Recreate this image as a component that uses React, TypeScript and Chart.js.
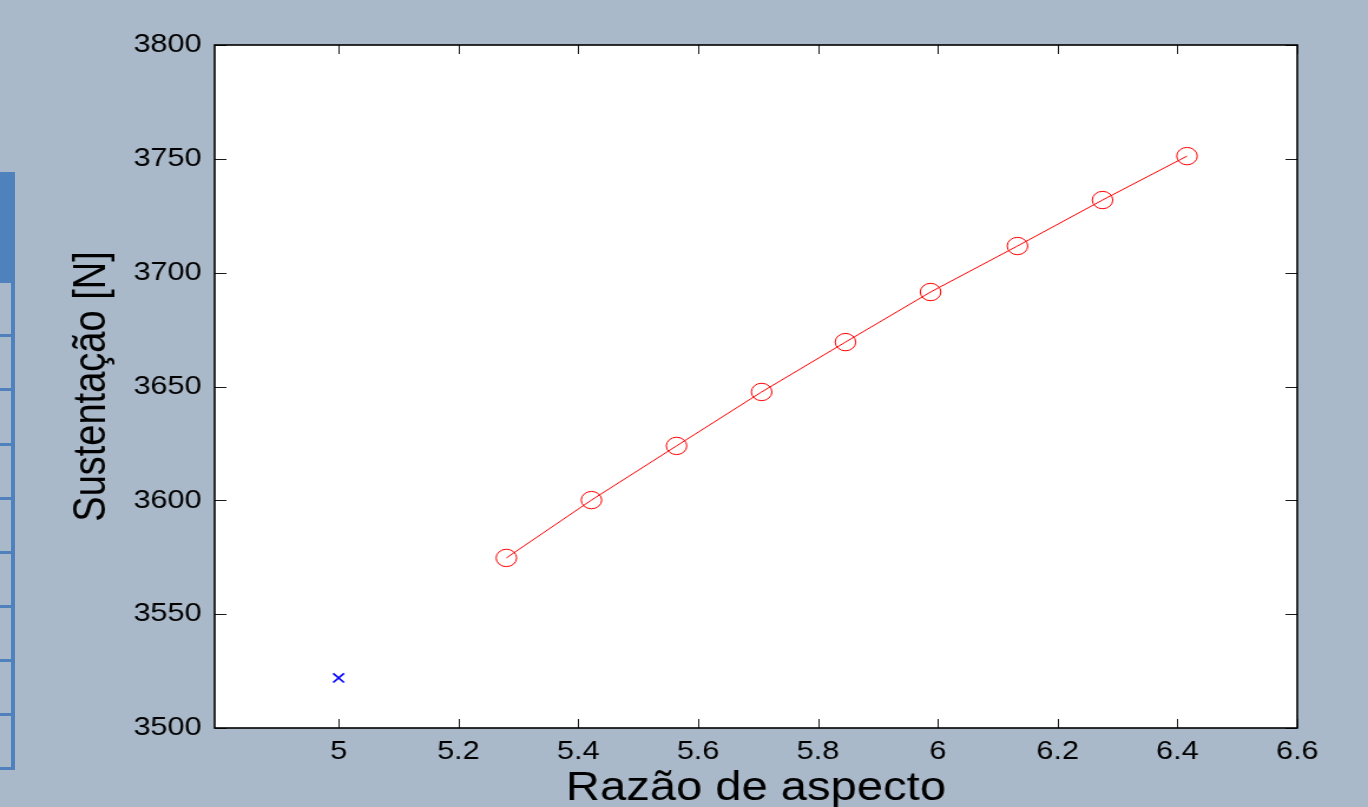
import React, { useEffect, useRef } from "react";
import { Chart, registerables } from "chart.js";

Chart.register(...registerables);

// ---- data ----
const aspectRatios = [5.28, 5.422, 5.564, 5.706, 5.846, 5.988, 6.133, 6.275, 6.416];
const liftValues = [3574.7, 3600.1, 3623.9, 3647.6, 3669.5, 3691.5, 3711.7, 3731.9, 3751.2];
const baselineX = [5.0];
const baselineY = [3522.0];
const xTickValues = [5, 5.2, 5.4, 5.6, 5.8, 6, 6.2, 6.4, 6.6];
const xTickLabels = ["5", "5.2", "5.4", "5.6", "5.8", "6", "6.2", "6.4", "6.6"];
const yTickValues = [3500, 3550, 3600, 3650, 3700, 3750, 3800];
const yTickLabels = ["3500", "3550", "3600", "3650", "3700", "3750", "3800"];
const xTitle = "Razão de aspecto";
const yTitle = "Sustentação [N]";

const STRETCH = 1368 / 1160;
const FONT = "'Liberation Sans', Arial, sans-serif";

const boxPlugin = {
  id: "boxPlugin",
  beforeDraw(chart: any) {
    const { ctx, chartArea } = chart;
    ctx.save();
    ctx.fillStyle = "#ffffff";
    ctx.fillRect(chartArea.left, chartArea.top, chartArea.right - chartArea.left, chartArea.bottom - chartArea.top);
    ctx.restore();
  },
  afterDraw(chart: any) {
    const { ctx, chartArea } = chart;
    const { left, right, top, bottom } = chartArea;
    const xs = chart.scales.x;
    const ys = chart.scales.y;
    ctx.save();
    ctx.strokeStyle = "#1a1a1a";
    ctx.lineWidth = 1;
    ctx.beginPath();
    xTickValues.forEach((v) => {
      const px = Math.round(xs.getPixelForValue(v)) + 0.5;
      ctx.moveTo(px, bottom);
      ctx.lineTo(px, bottom - 9);
      ctx.moveTo(px, top);
      ctx.lineTo(px, top + 9);
    });
    yTickValues.forEach((v) => {
      const py = Math.round(ys.getPixelForValue(v)) + 0.5;
      ctx.moveTo(left, py);
      ctx.lineTo(left + 10, py);
      ctx.moveTo(right, py);
      ctx.lineTo(right - 10, py);
    });
    ctx.stroke();
    ctx.strokeStyle = "#000000";
    ctx.lineWidth = 1.6;
    ctx.strokeRect(left, top, right - left, bottom - top);
    ctx.restore();
  },
};

export default function App() {
  const canvasRef = useRef<HTMLCanvasElement | null>(null);

  useEffect(() => {
    const canvas = canvasRef.current;
    if (!canvas) return;
    const chart = new Chart(canvas, {
      type: "scatter",
      data: {
        datasets: [
          {
            data: aspectRatios.map((x, i) => ({ x, y: liftValues[i] })),
            showLine: true,
            borderColor: "#ff0000",
            borderWidth: 1,
            tension: 0,
            pointStyle: "circle",
            pointRadius: 8.7,
            pointBorderColor: "#ff0000",
            pointBackgroundColor: "rgba(0,0,0,0)",
            pointBorderWidth: 1,
          },
          {
            data: baselineX.map((x, i) => ({ x, y: baselineY[i] })),
            showLine: false,
            pointStyle: "crossRot",
            pointRadius: 6.5,
            pointBorderColor: "#0000ff",
            pointBorderWidth: 1.6,
            borderColor: "#0000ff",
          },
        ],
      },
      options: {
        responsive: false,
        maintainAspectRatio: false,
        animation: false,
        devicePixelRatio: 1,
        layout: { padding: { left: 0, top: 45, right: 60, bottom: 0 } },
        plugins: { legend: { display: false }, tooltip: { enabled: false } },
        scales: {
          x: {
            type: "linear",
            min: 4.7931,
            max: 6.6,
            afterBuildTicks: (s: any) => {
              s.ticks = xTickValues.map((v) => ({ value: v }));
            },
            afterFit: (s: any) => {
              s.height = 79;
            },
            grid: { display: false },
            border: { display: false },
            ticks: {
              autoSkip: false,
              maxRotation: 0,
              padding: 0,
              color: "#000",
              font: { family: FONT, size: 26 },
              callback: (v: any) => {
                const i = xTickValues.findIndex((t) => Math.abs(t - v) < 1e-6);
                return i >= 0 ? xTickLabels[i] : "";
              },
            },
            title: {
              display: true,
              text: xTitle,
              color: "#000",
              font: { family: FONT, size: 40 },
              padding: { top: 0, bottom: -6 },
            },
          },
          y: {
            type: "linear",
            min: 3500,
            max: 3800,
            afterBuildTicks: (s: any) => {
              s.ticks = yTickValues.map((v) => ({ value: v }));
            },
            afterFit: (s: any) => {
              s.width = 182;
            },
            grid: { display: false },
            border: { display: false },
            ticks: {
              autoSkip: false,
              padding: 3,
              color: "#000",
              font: { family: FONT, size: 26 },
              callback: (v: any) => {
                const i = yTickValues.findIndex((t) => Math.abs(t - v) < 1e-6);
                return i >= 0 ? yTickLabels[i] : "";
              },
            },
            title: {
              display: true,
              text: yTitle,
              color: "#000",
              font: { family: FONT, size: 38 },
              padding: { top: 56, bottom: 0 },
            },
          },
        },
      },
      plugins: [boxPlugin],
    } as any);
    return () => chart.destroy();
  }, []);

  const rowLines = [280, 334, 388, 443, 497, 551, 605, 659, 713, 767];

  return (
    <div
      style={{
        position: "fixed",
        left: 0,
        top: 0,
        width: 1368,
        height: 807,
        background: "#aab9c9",
        overflow: "hidden",
      }}
    >
      <div style={{ position: "absolute", left: 0, top: 172, width: 15, height: 109, background: "#4f81bd" }} />
      <div style={{ position: "absolute", left: 11, top: 172, width: 4, height: 598, background: "#4f81bd" }} />
      {rowLines.map((y) => (
        <div key={y} style={{ position: "absolute", left: 0, top: y, width: 15, height: 3, background: "#4f81bd" }} />
      ))}
      <div
        style={{
          position: "absolute",
          left: 0,
          top: 0,
          width: 1160,
          height: 807,
          transform: `scaleX(${STRETCH})`,
          transformOrigin: "0 0",
        }}
      >
        <canvas
          ref={canvasRef}
          width={1160}
          height={807}
          style={{ width: 1160, height: 807, display: "block" }}
        />
      </div>
    </div>
  );
}
